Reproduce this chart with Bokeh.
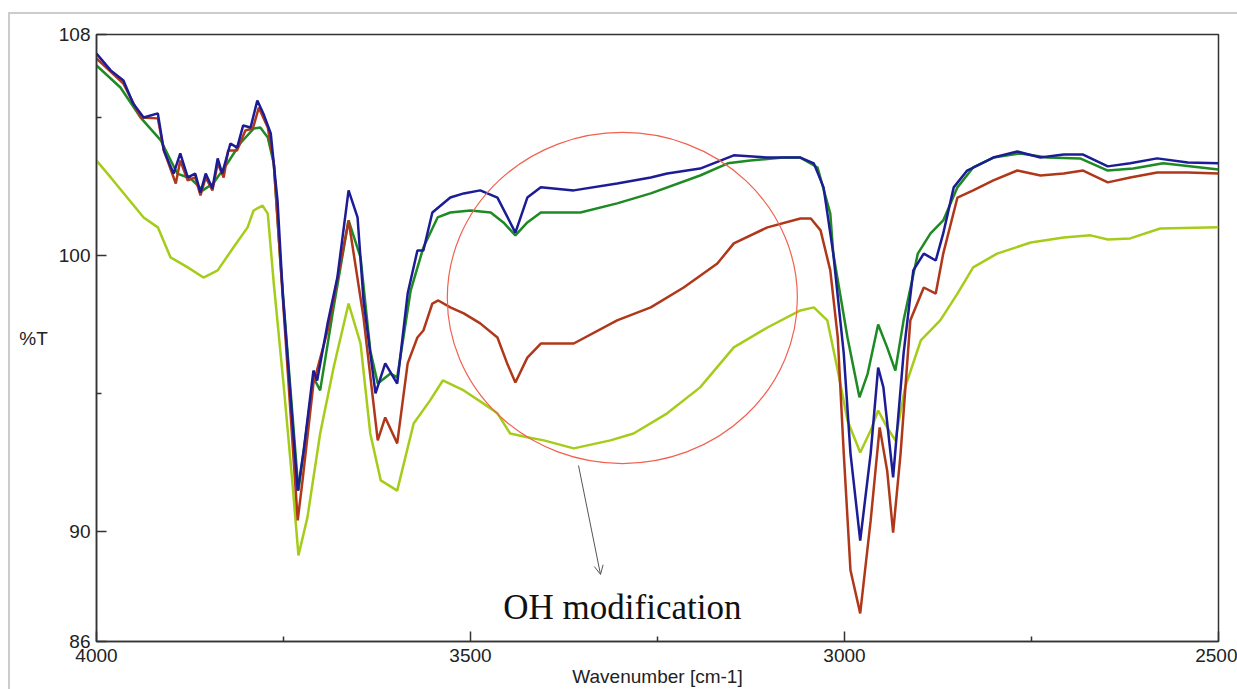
from bokeh.plotting import figure
from bokeh.models import Range1d, FixedTicker, Label, Arrow, OpenHead
from bokeh.embed import file_html
from bokeh.resources import INLINE

# ---- data (wavenumber cm-1, %T) ----
blue_w = [4000, 3981, 3964, 3951, 3937, 3918, 3910, 3897, 3888, 3878, 3868, 3861, 3854, 3845, 3838, 3832,
          3821, 3812, 3804, 3794, 3785, 3777, 3767, 3758, 3751, 3731, 3723, 3710, 3705, 3691, 3678, 3663,
          3651, 3643, 3627, 3614, 3598, 3584, 3571, 3563, 3551, 3527, 3509, 3487, 3464, 3440, 3424, 3406,
          3362, 3304, 3259, 3237, 3193, 3148, 3103, 3059, 3041, 3028, 3015, 3001, 2992, 2979, 2965, 2955,
          2948, 2935, 2921, 2908, 2894, 2878, 2868, 2854, 2836, 2801, 2769, 2738, 2707, 2681, 2648, 2618,
          2582, 2541, 2500]
blue_t = [107.31, 106.70, 106.33, 105.50, 104.99, 105.14, 103.80, 102.96, 103.69, 102.82, 102.96, 102.27,
          102.96, 102.42, 103.51, 102.96, 104.05, 103.90, 104.70, 104.63, 105.61, 105.14, 104.41, 101.98,
          98.61, 91.47, 92.92, 95.82, 95.46, 97.53, 99.19, 102.35, 101.37, 98.36, 94.99, 96.08, 95.35, 98.61,
          100.17, 100.17, 101.55, 102.09, 102.24, 102.35, 102.09, 100.82, 102.09, 102.46, 102.35, 102.60,
          102.82, 102.96, 103.14, 103.62, 103.54, 103.54, 103.33, 102.46, 100.06, 96.44, 92.82, 89.66, 92.82,
          95.93, 95.21, 91.95, 96.44, 99.45, 100.06, 99.81, 100.79, 102.46, 103.07, 103.54, 103.76, 103.54,
          103.65, 103.65, 103.22, 103.33, 103.51, 103.36, 103.33]

green_w = [4000, 3968, 3941, 3914, 3892, 3874, 3858, 3844, 3825, 3808, 3790, 3781, 3771, 3763, 3754, 3730,
           3710, 3701, 3683, 3663, 3647, 3634, 3624, 3607, 3598, 3580, 3563, 3544, 3527, 3500, 3473, 3456,
           3440, 3424, 3406, 3353, 3304, 3259, 3193, 3156, 3126, 3082, 3059, 3036, 3019, 3015, 2996, 2980,
           2969, 2955, 2943, 2932, 2921, 2902, 2885, 2868, 2849, 2828, 2801, 2765, 2729, 2685, 2648, 2614,
           2574, 2500]
green_t = [106.88, 106.08, 104.99, 104.16, 102.96, 102.78, 102.35, 102.60, 103.33, 104.05, 104.59, 104.63,
           104.27, 103.33, 99.70, 91.47, 95.57, 95.10, 98.11, 101.26, 99.92, 96.55, 95.35, 95.71, 95.57, 98.72,
           100.28, 101.37, 101.55, 101.62, 101.55, 101.19, 100.72, 101.19, 101.55, 101.55, 101.88, 102.24,
           102.89, 103.33, 103.43, 103.54, 103.54, 103.18, 101.51, 100.06, 97.02, 94.85, 95.71, 97.49, 96.66,
           95.82, 97.64, 100.06, 100.79, 101.26, 102.46, 103.18, 103.54, 103.69, 103.54, 103.51, 103.07,
           103.14, 103.33, 103.11]

red_w = [4000, 3964, 3941, 3918, 3910, 3894, 3888, 3878, 3868, 3861, 3854, 3845, 3838, 3830, 3824, 3812,
         3801, 3791, 3783, 3771, 3763, 3754, 3731, 3725, 3710, 3691, 3663, 3643, 3624, 3614, 3598, 3584,
         3571, 3563, 3551, 3543, 3527, 3509, 3487, 3464, 3451, 3440, 3424, 3406, 3362, 3304, 3259, 3215,
         3170, 3148, 3103, 3059, 3045, 3032, 3019, 3009, 3001, 2992, 2979, 2965, 2953, 2943, 2935, 2925,
         2912, 2894, 2878, 2868, 2849, 2828, 2801, 2769, 2738, 2707, 2681, 2648, 2618, 2582, 2541, 2500]
red_t = [107.13, 106.22, 104.99, 104.96, 103.80, 102.60, 103.43, 102.71, 102.82, 102.17, 102.82, 102.35,
         103.33, 102.82, 103.80, 103.80, 104.52, 104.59, 105.35, 104.63, 103.33, 99.70, 90.39, 91.73, 95.35,
         97.27, 101.26, 97.74, 93.29, 94.12, 93.18, 96.08, 97.02, 97.27, 98.25, 98.36, 98.11, 97.89, 97.53,
         97.02, 96.08, 95.39, 96.29, 96.80, 96.80, 97.64, 98.11, 98.83, 99.70, 100.43, 101.01, 101.33,
         101.33, 100.90, 99.45, 97.02, 92.82, 88.58, 87.02, 90.39, 93.76, 92.20, 89.95, 92.82, 97.64, 98.83,
         98.61, 100.06, 102.09, 102.35, 102.71, 103.07, 102.89, 102.96, 103.07, 102.64, 102.82, 103.00,
         103.00, 102.96]

yellow_w = [4000, 3981, 3959, 3937, 3918, 3901, 3878, 3857, 3838, 3817, 3798, 3790, 3778, 3771, 3763, 3750,
            3738, 3730, 3718, 3701, 3683, 3663, 3647, 3634, 3620, 3598, 3576, 3554, 3537, 3509, 3483, 3464,
            3447, 3424, 3402, 3362, 3313, 3282, 3237, 3193, 3148, 3103, 3059, 3041, 3023, 3009, 2996, 2979,
            2965, 2955, 2943, 2932, 2919, 2898, 2872, 2849, 2828, 2796, 2751, 2707, 2671, 2648, 2618, 2578,
            2500]
yellow_t = [103.43, 102.82, 102.09, 101.37, 101.01, 99.92, 99.56, 99.19, 99.45, 100.28, 101.01, 101.62,
            101.80, 101.51, 98.98, 95.35, 91.73, 89.12, 90.50, 93.54, 95.93, 98.25, 96.80, 93.54, 91.84, 91.47,
            93.90, 94.74, 95.46, 95.10, 94.63, 94.27, 93.54, 93.40, 93.29, 93.00, 93.29, 93.54, 94.27, 95.21,
            96.66, 97.38, 98.00, 98.11, 97.64, 95.82, 94.01, 92.85, 93.65, 94.37, 93.76, 93.29, 95.21, 96.91,
            97.64, 98.61, 99.56, 100.06, 100.46, 100.64, 100.72, 100.57, 100.61, 100.97, 101.01]

x_major = [4000, 3500, 3000, 2500]
x_minor = [3750, 3250, 2750]
y_major = [86, 90, 100, 108]
y_minor = [95, 105]

# ---- figure ----
p = figure(width=1237, height=689, x_range=Range1d(4000, 2500), y_range=Range1d(86, 108),
           output_backend="svg", toolbar_location=None, title=None,
           min_border_left=96, min_border_right=19, min_border_top=34, min_border_bottom=48)
p.xgrid.visible = False
p.ygrid.visible = False
p.outline_line_color = "#333333"
p.outline_line_width = 1.5
p.border_fill_alpha = 0
p.styles = {
    "background-color": "white",
    "background-image": "linear-gradient(#cccccc,#cccccc), linear-gradient(#cccccc,#cccccc)",
    "background-size": "1230px 2px, 2px 680px",
    "background-position": "9px 12px, 8px 12px",
    "background-repeat": "no-repeat",
}

for ax in (p.xaxis[0], p.yaxis[0]):
    ax.axis_line_color = "#333333"
    ax.axis_line_width = 1.5
    ax.major_tick_line_color = "#333333"
    ax.minor_tick_line_color = "#333333"
    ax.major_tick_line_width = 1.5
    ax.minor_tick_line_width = 1.5
    ax.major_tick_in = 10
    ax.major_tick_out = 0
    ax.minor_tick_in = 5
    ax.minor_tick_out = 0
    ax.major_label_text_font = "Liberation Sans"
    ax.major_label_text_font_size = "19px"
    ax.major_label_text_color = "#222222"
    ax.axis_label_text_font = "Liberation Sans"
    ax.axis_label_text_font_size = "19px"
    ax.axis_label_text_font_style = "normal"
    ax.axis_label_text_color = "#222222"

p.xaxis[0].ticker = FixedTicker(ticks=x_major, minor_ticks=x_minor)
p.yaxis[0].ticker = FixedTicker(ticks=y_major, minor_ticks=y_minor)
p.xaxis[0].major_label_standoff = 7
p.yaxis[0].major_label_standoff = 6
p.xaxis[0].axis_label = "Wavenumber [cm-1]"
p.xaxis[0].axis_label_standoff = 1
p.yaxis[0].axis_label = "%T"
p.yaxis[0].axis_label_orientation = "horizontal"
p.yaxis[0].axis_label_standoff = 8

# ---- curves ----
p.line(yellow_w, yellow_t, line_color="#a6cc1a", line_width=2.5)
p.line(green_w, green_t, line_color="#1e8a24", line_width=2.5)
p.line(red_w, red_t, line_color="#b0381a", line_width=2.5)
p.line(blue_w, blue_t, line_color="#1c1c96", line_width=2.5)

# ---- annotation ----
p.ellipse(x=[3297], y=[98.45], width=468, height=12.0, fill_alpha=0,
          line_color="#f2604e", line_width=1.2)
p.add_layout(Arrow(end=OpenHead(size=9, line_color="#555555", line_width=1),
                   x_start=3355.6, y_start=92.38, x_end=3326.2, y_end=88.43,
                   line_color="#555555", line_width=1))
p.add_layout(Label(x=3297, y=87.24, text="OH modification", text_align="center",
                   text_baseline="alphabetic", text_font="Liberation Serif",
                   text_font_size="35px", text_color="#111111"))

open("out.html", "w").write(file_html(p, INLINE))
